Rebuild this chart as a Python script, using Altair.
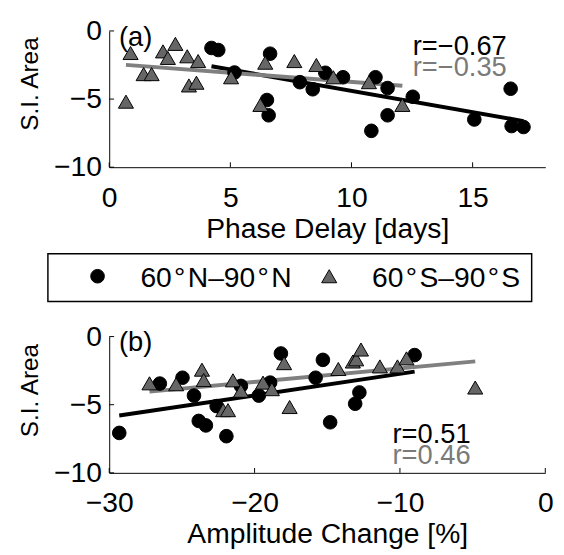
import altair as alt
import pandas as pd

FONT = "Liberation Sans"
NORTH = "60\u200a°\u200aN–90\u200a°\u200aN"
SOUTH = "60\u200a°\u200aS–90\u200a°\u200aS"
SERIES = [NORTH, SOUTH]

# ---- panel (a): Phase Delay [days] vs S.I. Area ----
a_north_x = [4.22, 4.50, 5.17, 6.64, 6.51, 6.58, 7.87, 8.40, 8.92, 9.65, 10.99,
             11.49, 12.53, 11.49, 10.82, 15.07, 16.57, 16.61, 17.10]
a_north_y = [-1.25, -1.40, -3.05, -1.67, -5.07, -6.19, -3.76, -4.28, -3.07, -3.40, -3.40,
             -4.19, -4.83, -6.19, -7.33, -6.50, -4.24, -6.98, -7.05]
a_south_x = [0.69, 0.88, 1.42, 1.75, 2.22, 2.42, 2.73, 3.22, 3.67, 3.29, 3.60,
             5.03, 6.44, 6.24, 7.64, 8.55, 9.25, 10.72, 12.10]
a_south_y = [-5.19, -1.62, -3.17, -3.17, -1.50, -1.98, -0.95, -1.86, -2.21, -4.00, -3.80,
             -3.40, -2.33, -5.43, -2.21, -2.50, -3.40, -3.76, -5.43]

# ---- panel (b): Amplitude Change [%] vs S.I. Area ----
b_north_x = [-29.31, -26.52, -24.96, -24.17, -23.84, -23.35, -21.94, -22.61, -20.94,
             -19.71, -18.93, -18.19, -15.80, -15.30, -8.99, -12.79, -13.08, -14.80]
b_north_y = [-7.07, -3.45, -3.02, -4.33, -6.19, -6.52, -7.31, -5.10, -3.62,
             -4.33, -3.38, -1.24, -3.02, -1.71, -1.36, -4.10, -4.93, -6.29]
b_south_x = [-27.23, -25.40, -23.62, -23.50, -22.16, -21.83, -21.49, -20.94, -19.42, -18.81,
             -17.97, -17.59, -14.24, -13.24, -13.01, -12.68, -11.38, -10.17, -9.55, -4.82]
b_south_y = [-3.43, -3.50, -2.43, -3.19, -5.40, -5.40, -3.21, -3.98, -3.38, -3.86,
             -1.95, -5.17, -2.38, -1.83, -1.67, -0.95, -2.19, -2.19, -1.60, -3.74]

a_xticks = [0, 5, 10, 15]
b_xticks = [-30, -20, -10, 0]
y_ticks = [-10, -5, 0]

a_text = ["(a)", "r=\u22120.67", "r=\u22120.35"]
a_text_x = [0.4, 12.53, 12.53]
a_text_y = [-1.07, -1.74, -3.29]
b_text = ["(b)", "r=0.51", "r=0.46"]
b_text_x = [-29.33, -10.51, -10.51]
b_text_y = [-1.07, -7.79, -9.33]
text_colors = ["black", "black", "#7a7a7a"]

W, H = 448, 140

SHAPE_SC = alt.Scale(domain=SERIES, range=["circle", "triangle-up"])
FILL_SC = alt.Scale(domain=SERIES, range=["black", "#666666"])
SIZE_SC = alt.Scale(domain=SERIES, range=[196, 240])


def marker_enc():
    return dict(
        shape=alt.Shape("series:N", scale=SHAPE_SC, legend=None),
        fill=alt.Fill("series:N", scale=FILL_SC, legend=None),
        size=alt.Size("series:N", scale=SIZE_SC, legend=None),
    )


def panel(nx, ny, sx, sy, xdom, xticks, xtitle, tx, ty, tt, title_y):
    df = pd.concat([
        pd.DataFrame({"x": nx, "y": ny, "series": NORTH}),
        pd.DataFrame({"x": sx, "y": sy, "series": SOUTH}),
    ])
    xsc = alt.Scale(domain=xdom, nice=False, zero=False)
    ysc = alt.Scale(domain=[-10, 0], nice=False, zero=False)
    X = alt.X("x:Q", scale=xsc, axis=alt.Axis(values=xticks, title=xtitle, format="d"))
    Y = alt.Y("y:Q", scale=ysc,
              axis=alt.Axis(values=y_ticks, title="S.I. Area", format="d", titleY=title_y,
                            titleAlign="center", titleAngle=270, titleBaseline="bottom",
                            titleFontSize=25))

    lines = alt.Chart(df).transform_regression(
        "x", "y", groupby=["series"]
    ).mark_line(strokeWidth=4).encode(
        x=X, y=Y,
        color=alt.Color("series:N", scale=alt.Scale(domain=SERIES, range=["black", "#808080"]),
                        legend=None),
    )
    points = alt.Chart(df).mark_point(filled=True, opacity=1, stroke="black",
                                      strokeWidth=1).encode(x=X, y=Y, **marker_enc())
    tdf = pd.DataFrame({"x": tx, "y": ty, "t": tt, "c": text_colors})
    texts = alt.Chart(tdf).mark_text(align="left", baseline="alphabetic", font=FONT,
                                     fontSize=28).encode(
        x=X, y=Y, text="t:N", color=alt.Color("c:N", scale=None))
    xt = alt.Chart(pd.DataFrame({"x": xticks})).mark_rule(color="black", strokeWidth=1).encode(
        x=X, y=alt.value(H), y2=alt.value(H - 5))
    yt = alt.Chart(pd.DataFrame({"y": y_ticks})).mark_rule(color="black", strokeWidth=1).encode(
        y=Y, x=alt.value(0), x2=alt.value(5))
    return alt.layer(lines, points, texts, xt, yt)


# ---- legend box (drawn above panel b, between the two panels) ----
legend_df = pd.DataFrame({"series": SERIES})
LEG_X = alt.X("series:N", scale=alt.Scale(domain=SERIES, range=[-12, 226], padding=0),
              axis=None)
leg_box = alt.Chart(pd.DataFrame({"series": [NORTH]})).mark_rect(
    fill="white", stroke="black", strokeWidth=1.5
).encode(x=alt.value(-63), x2=alt.value(434), y=alt.value(-85), y2=alt.value(-36))
leg_sym = alt.Chart(legend_df).mark_point(filled=True, opacity=1, stroke="black",
                                          strokeWidth=1).encode(
    x=LEG_X, y=alt.value(-62), **marker_enc())
leg_lab = alt.Chart(legend_df).mark_text(align="left", baseline="middle", font=FONT,
                                         fontSize=29, dx=44, color="black").encode(
    x=LEG_X, y=alt.value(-60), text="series:N")
legend_layer = alt.layer(leg_box, leg_sym, leg_lab)

pa = panel(a_north_x, a_north_y, a_south_x, a_south_y, [0, 18], a_xticks,
           "Phase Delay [days]", a_text_x, a_text_y, a_text, 54).properties(width=W, height=H)
pb_main = panel(b_north_x, b_north_y, b_south_x, b_south_y, [-30, 0], b_xticks,
                "Amplitude Change [%]", b_text_x, b_text_y, b_text, 55)
pb = alt.layer(pb_main, legend_layer).resolve_scale(x="independent").properties(
    width=W, height=H)

chart = alt.vconcat(pa, pb, spacing=10).resolve_scale(
    x="independent", y="independent"
).configure_axis(
    domainColor="black", domainWidth=1, ticks=False, tickSize=0, grid=False,
    labelFont=FONT, labelFontSize=29, labelColor="black", labelFlush=False,
    titleFont=FONT, titleFontSize=29, titleFontWeight="normal", titleColor="black",
).configure_axisX(
    labelPadding=17, titlePadding=3,
).configure_axisY(
    labelPadding=8, titlePadding=12,
).configure_view(stroke=None).properties(
    padding={"left": 9, "top": 2, "right": 2, "bottom": 5}
)

chart.save("out.html", embed_options={"renderer": "svg", "actions": False})
